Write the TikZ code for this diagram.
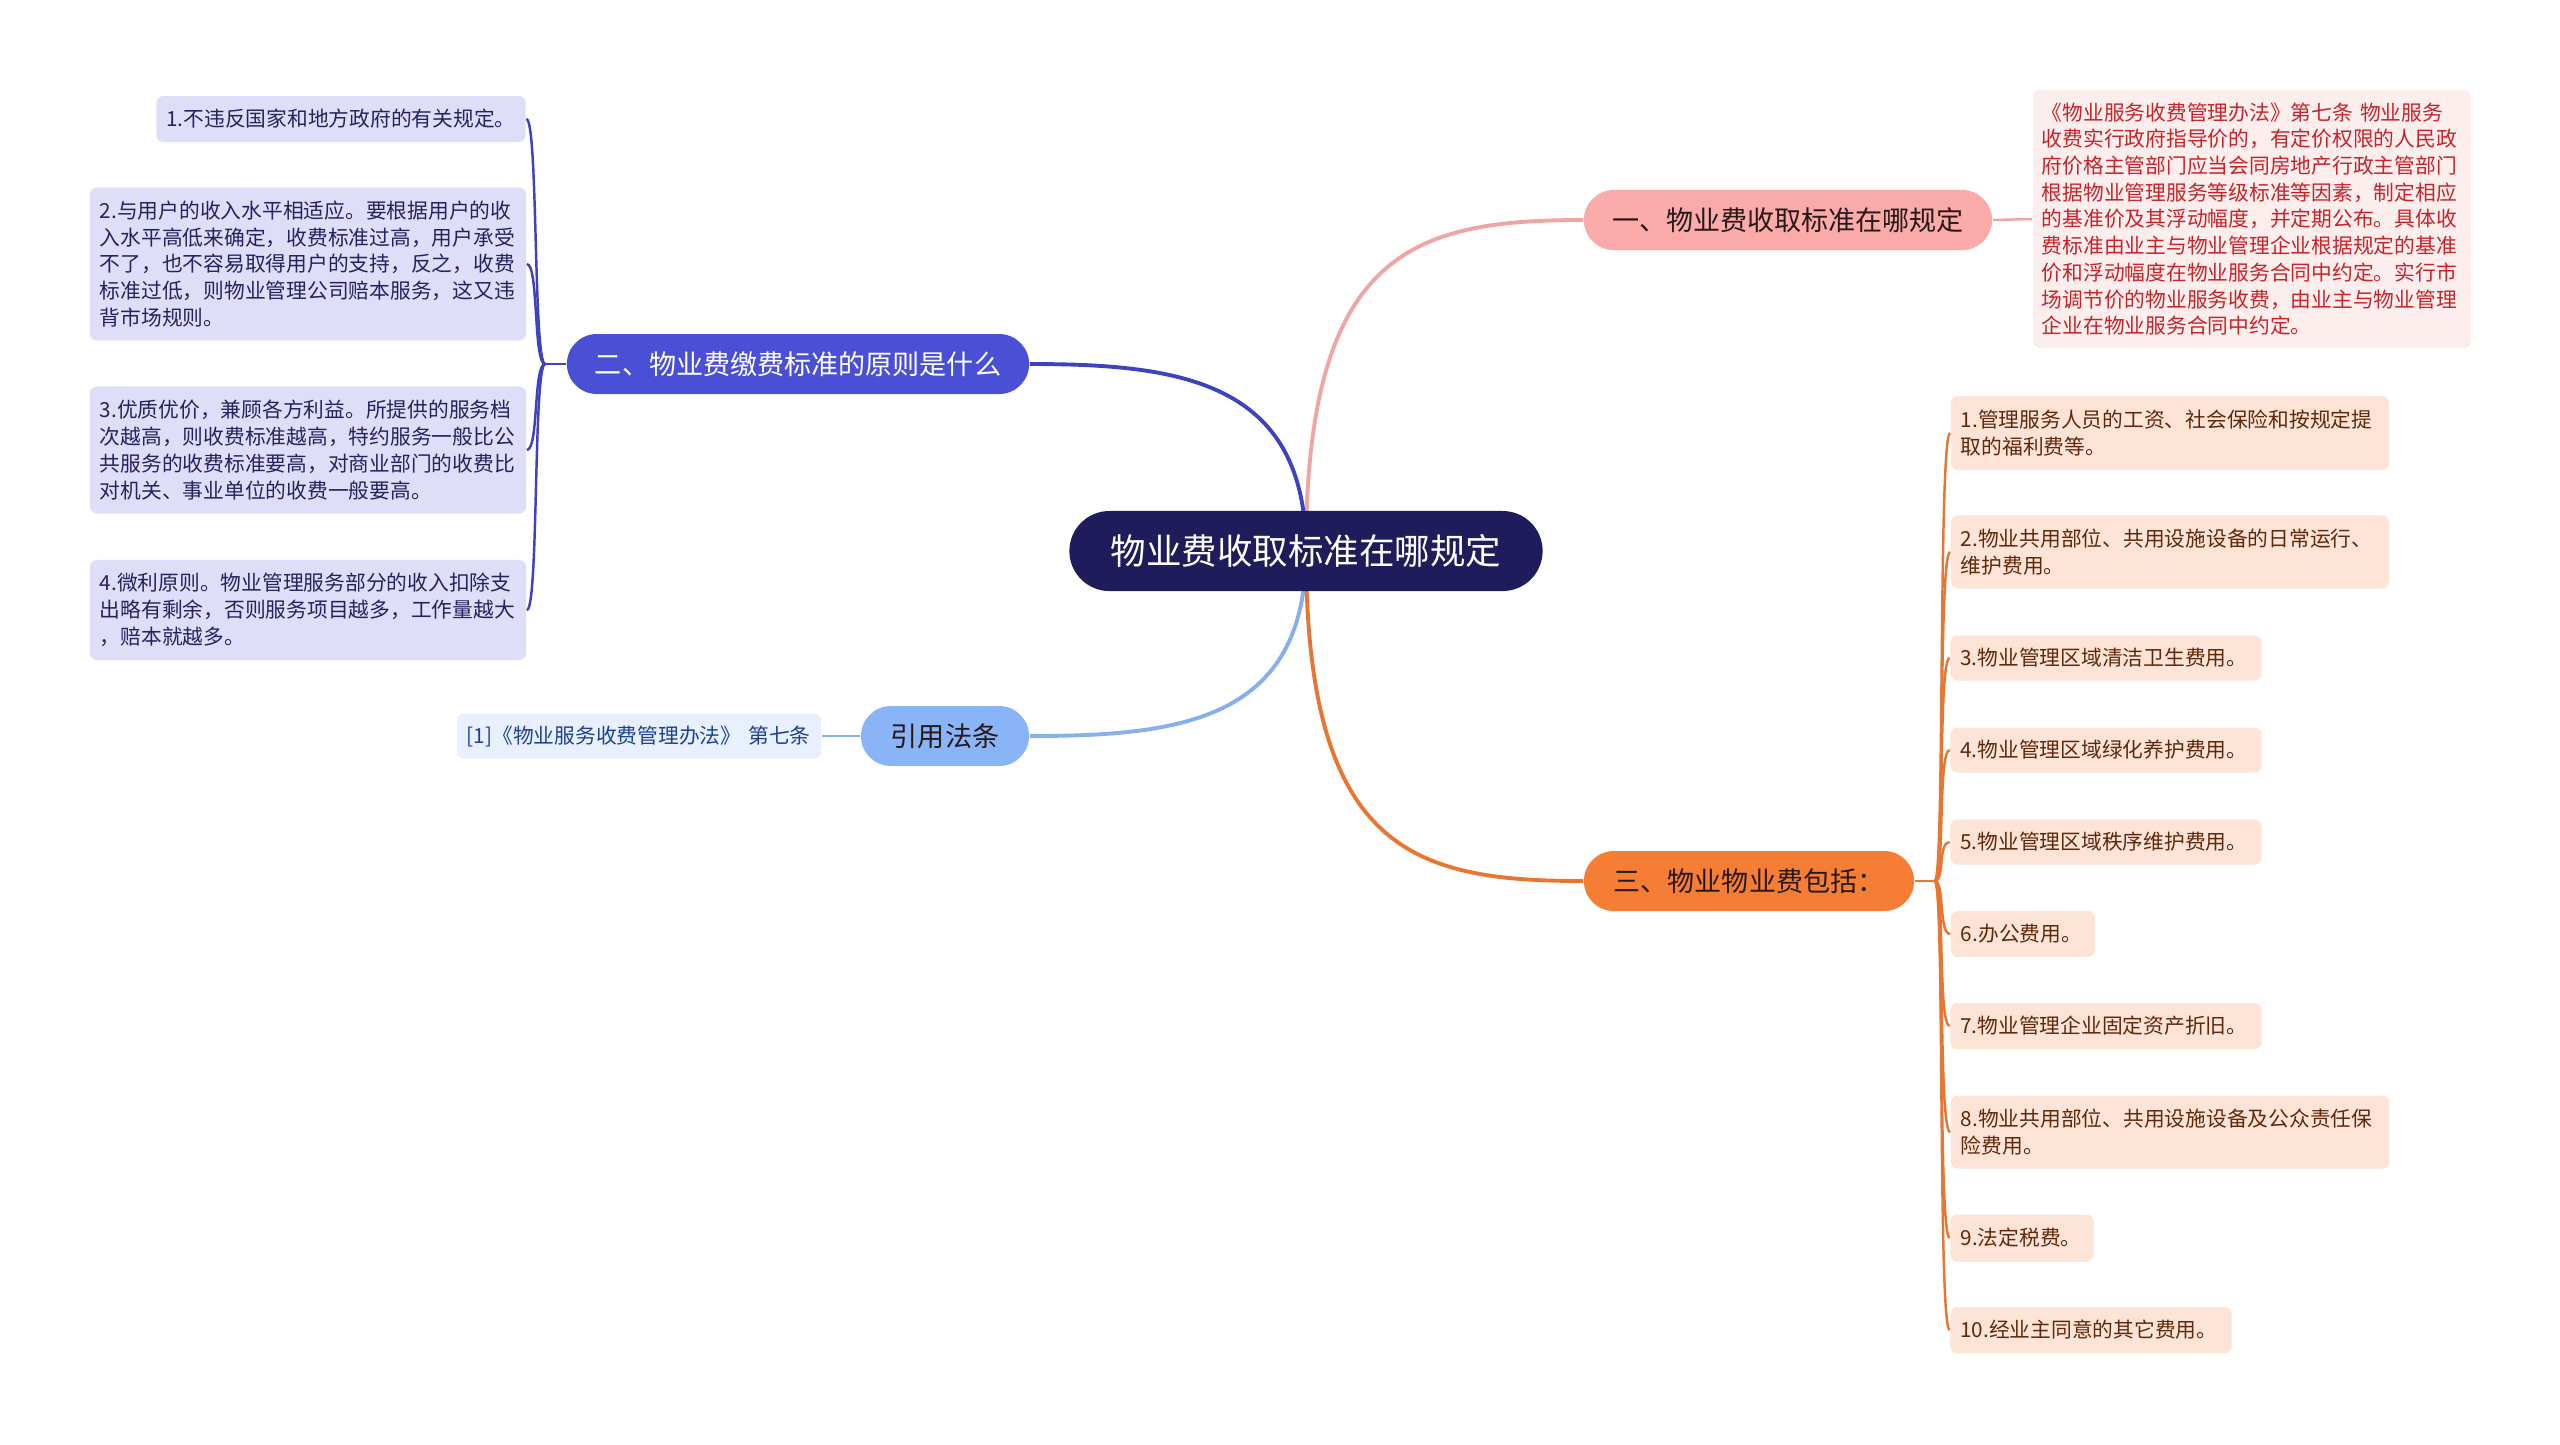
\documentclass[tikz,border=0pt]{standalone}
\usepackage{fontspec}
\setmainfont{Noto Sans CJK SC}
\usetikzlibrary{positioning, backgrounds, calc}
\definecolor{rootnavy}{RGB}{31, 28, 92}
\definecolor{pinkbranch}{RGB}{250, 170, 168}
\definecolor{pinkline}{RGB}{240, 165, 165}
\definecolor{pinkleaf}{RGB}{253, 238, 238}
\definecolor{pinktext}{RGB}{200, 35, 40}
\definecolor{violetbranch}{RGB}{74, 80, 214}
\definecolor{violetline}{RGB}{62, 66, 190}
\definecolor{violetleaf}{RGB}{222, 222, 248}
\definecolor{violettext}{RGB}{35, 35, 95}
\definecolor{skybranch}{RGB}{138, 180, 248}
\definecolor{skyline}{RGB}{135, 175, 235}
\definecolor{skyleaf}{RGB}{232, 240, 253}
\definecolor{skytext}{RGB}{30, 65, 150}
\definecolor{orangebranch}{RGB}{246, 125, 52}
\definecolor{orangeline}{RGB}{232, 118, 50}
\definecolor{orangeleaf}{RGB}{253, 228, 215}
\definecolor{orangetext}{RGB}{95, 40, 10}
\definecolor{darktext}{RGB}{40, 25, 25}

\begin{document}
\begin{tikzpicture}[
    x=0.01cm, y=-0.01cm,
    root/.style={fill=rootnavy, text=white, rounded corners=0.4cm, minimum width=4.73cm, minimum height=0.8cm, font=\fontsize{10.1}{12}\selectfont},
    branch/.style={rounded corners=0.3cm, minimum height=0.6cm, inner xsep=0pt, font=\fontsize{7.7}{9}\selectfont},
    leaf/.style={rounded corners=0.07cm, inner xsep=0.1cm, inner ysep=0pt, align=left, font=\fontsize{5.9}{7.6}\selectfont},
    link/.style={line width=1.1pt},
    twig/.style={line width=0.7pt}
]
\useasboundingbox (0,0) rectangle (2560,1444);

% Root
\node[root] (ctr) at (1306,551) {物业费收取标准在哪规定};

% Branch one: where the standard is set
\node[branch, fill=pinkbranch, text=darktext, minimum width=4.08cm] (b1) at (1788,220) {一、物业费收取标准在哪规定};
\node[leaf, fill=pinkleaf, text=pinktext, inner xsep=0.09cm, text width=4.2cm, minimum height=2.58cm] (d1) at (2252,219) {《物业服务收费管理办法》第七条 物业服务\\收费实行政府指导价的，有定价权限的人民政\\府价格主管部门应当会同房地产行政主管部门\\根据物业管理服务等级标准等因素，制定相应\\的基准价及其浮动幅度，并定期公布。具体收\\费标准由业主与物业管理企业根据规定的基准\\价和浮动幅度在物业服务合同中约定。实行市\\场调节价的物业服务收费，由业主与物业管理\\企业在物业服务合同中约定。};

% Branch two: principles
\node[branch, fill=violetbranch, text=white, minimum width=4.62cm] (b2) at (798,364) {二、物业费缴费标准的原则是什么};
\node[leaf, fill=violetleaf, text=violettext, text width=3.49cm, minimum height=0.46cm] (l1) at (341,119) {1.不违反国家和地方政府的有关规定。};
\node[leaf, fill=violetleaf, text=violettext, text width=4.16cm, minimum height=1.53cm] (l2) at (308,264) {2.与用户的收入水平相适应。要根据用户的收\\入水平高低来确定，收费标准过高，用户承受\\不了，也不容易取得用户的支持，反之，收费\\标准过低，则物业管理公司赔本服务，这又违\\背市场规则。};
\node[leaf, fill=violetleaf, text=violettext, text width=4.16cm, minimum height=1.27cm] (l3) at (308,450) {3.优质优价，兼顾各方利益。所提供的服务档\\次越高，则收费标准越高，特约服务一般比公\\共服务的收费标准要高，对商业部门的收费比\\对机关、事业单位的收费一般要高。};
\node[leaf, fill=violetleaf, text=violettext, text width=4.16cm, minimum height=1.0cm] (l4) at (308,610) {4.微利原则。物业管理服务部分的收入扣除支\\出略有剩余，否则服务项目越多，工作量越大\\，赔本就越多。};

% Branch three: cited law
\node[branch, fill=skybranch, text=darktext, minimum width=1.68cm] (b3) at (945,736) {引用法条};
\node[leaf, fill=skyleaf, text=skytext, text width=3.44cm, minimum height=0.45cm] (r1) at (639,736) {[1]《物业服务收费管理办法》 第七条};

% Branch four: what the fee covers
\node[branch, fill=orangebranch, text=darktext, minimum width=3.3cm] (b4) at (1749,881) {三、物业物业费包括：};
\node[leaf, fill=orangeleaf, text=orangetext, text width=4.18cm, minimum height=0.74cm] (o1) at (2170,433) {1.管理服务人员的工资、社会保险和按规定提\\取的福利费等。};
\node[leaf, fill=orangeleaf, text=orangetext, text width=4.18cm, minimum height=0.73cm] (o2) at (2170,552) {2.物业共用部位、共用设施设备的日常运行、\\维护费用。};
\node[leaf, fill=orangeleaf, text=orangetext, text width=2.91cm, minimum height=0.45cm] (o3) at (2106,658) {3.物业管理区域清洁卫生费用。};
\node[leaf, fill=orangeleaf, text=orangetext, text width=2.91cm, minimum height=0.45cm] (o4) at (2106,750) {4.物业管理区域绿化养护费用。};
\node[leaf, fill=orangeleaf, text=orangetext, text width=2.91cm, minimum height=0.45cm] (o5) at (2106,842) {5.物业管理区域秩序维护费用。};
\node[leaf, fill=orangeleaf, text=orangetext, text width=1.24cm, minimum height=0.46cm] (o6) at (2023,934) {6.办公费用。};
\node[leaf, fill=orangeleaf, text=orangetext, text width=2.91cm, minimum height=0.46cm] (o7) at (2106,1026) {7.物业管理企业固定资产折旧。};
\node[leaf, fill=orangeleaf, text=orangetext, text width=4.18cm, minimum height=0.73cm] (o8) at (2170,1132) {8.物业共用部位、共用设施设备及公众责任保\\险费用。};
\node[leaf, fill=orangeleaf, text=orangetext, text width=1.23cm, minimum height=0.47cm] (o9) at (2022,1238) {9.法定税费。};
\node[leaf, fill=orangeleaf, text=orangetext, text width=2.61cm, minimum height=0.46cm] (o10) at (2091,1330) {10.经业主同意的其它费用。};

% Connectors
\begin{scope}[on background layer]
\fill[white] (0,0) rectangle (2560,1444);
\draw[link, pinkline] (ctr.center) .. controls +(0,-300) and +(-170,0) .. (b1.west);
\draw[link, violetline] (ctr.center) .. controls +(0,-170) and +(150,0) .. (b2.east);
\draw[link, skyline] (ctr.center) .. controls +(0,170) and +(150,0) .. (b3.east);
\draw[link, orangeline] (ctr.center) .. controls +(0,300) and +(-170,0) .. (b4.west);
\draw[twig, pinkline] (b1.east) -- (d1.west);
\draw[twig, skyline] (b3.west) -- (r1.east);
\draw[twig, violetline] (b2.west) -- ++(-21,0) coordinate (b2j);
\foreach \n in {l1,l2,l3,l4}
    \draw[twig, violetline] (b2j) .. controls +(-12,0) and +(12,0) .. (\n.east);
\draw[twig, orangeline] (b4.east) -- ++(20,0) coordinate (b4j);
\foreach \i in {1,...,10}
    \draw[twig, orangeline] (b4j) .. controls +(10,0) and +(-12,0) .. (o\i.west);
\end{scope}

\end{tikzpicture}
\end{document}
